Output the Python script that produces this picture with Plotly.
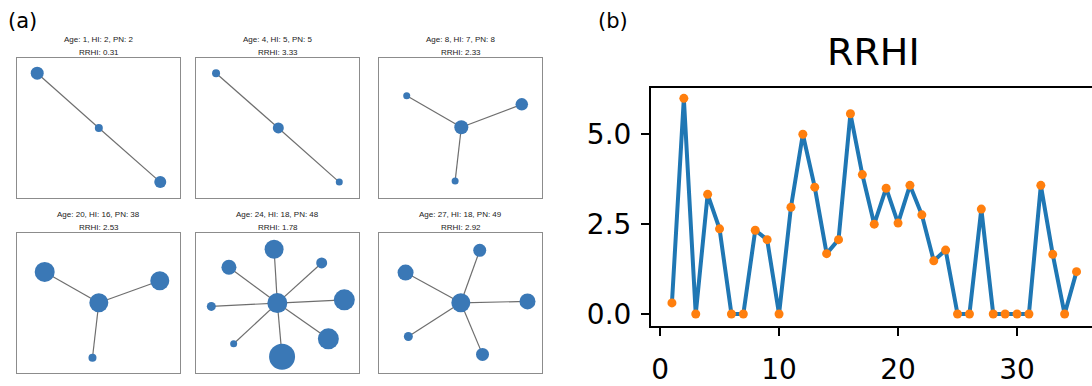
import plotly.graph_objects as go

# ---- data -------------------------------------------------------------
ages = list(range(1, 36))
rrhi = [0.31, 6.0, 0.0, 3.33, 2.37, 0.0, 0.0, 2.33, 2.07, 0.0,
        2.97, 5.0, 3.53, 1.68, 2.07, 5.57, 3.88, 2.5, 3.5, 2.53,
        3.58, 2.76, 1.48, 1.78, 0.0, 0.0, 2.92, 0.0, 0.0, 0.0,
        0.0, 3.58, 1.66, 0.0, 1.18]

panel_age = [1, 4, 8, 20, 24, 27]
panel_hi = [2, 5, 7, 16, 18, 18]
panel_pn = [2, 5, 8, 38, 48, 49]
panel_rrhi = [0.31, 3.33, 2.33, 2.53, 1.78, 2.92]

# network layouts (first node is the hub), node weights
net_x = [
    [0.502, 0.124, 0.879],
    [0.505, 0.123, 0.879],
    [0.505, 0.17, 0.876, 0.467],
    [0.502, 0.17, 0.876, 0.463],
    [0.499, 0.479, 0.202, 0.771, 0.910, 0.812, 0.528, 0.231, 0.094],
    [0.502, 0.618, 0.163, 0.911, 0.635, 0.18],
]
net_y = [
    [0.5, 0.892, 0.113],
    [0.5, 0.892, 0.113],
    [0.505, 0.73, 0.669, 0.12],
    [0.503, 0.724, 0.661, 0.11],
    [0.501, 0.886, 0.757, 0.788, 0.524, 0.245, 0.117, 0.21, 0.477],
    [0.503, 0.878, 0.719, 0.513, 0.134, 0.262],
]
net_w = [
    [8, 13, 12],
    [11, 8, 7],
    [14, 7, 12.5, 7],
    [19, 20, 19, 8],
    [20, 19, 15, 11, 21, 21, 26, 7, 9],
    [19, 13, 16, 16, 13, 9],
]

# ---- figure -----------------------------------------------------------
W, H = 1092, 386
fig = go.Figure()

box_cols = [(17, 180), (196, 359), (379, 542)]
box_rows = [(59, 201), (237, 379)]

NODE_COLOR = "#3a78b6"
EDGE_COLOR = "#6e6e6e"
SMALL_FONT = "Liberation Sans, Arial, sans-serif"
BIG_FONT = "DejaVu Sans, sans-serif"

annotations = []
for i in range(6):
    r, c = divmod(i, 3)
    x0, x1 = box_cols[c]
    y0, y1 = box_rows[r]
    ax = "" if i == 0 else str(i + 1)
    common = dict(range=[0, 1], showticklabels=False, ticks="", showgrid=False,
                  zeroline=False, showline=True, linecolor="#8c8c8c",
                  linewidth=1, mirror=True, fixedrange=True)
    xa = dict(domain=[x0 / W, x1 / W], anchor="y" + ax, **common)
    ya = dict(domain=[1 - y1 / H, 1 - y0 / H], anchor="x" + ax, **common)
    fig.update_layout(**{"xaxis" + ax: xa, "yaxis" + ax: ya})

    xs, ys, ws = net_x[i], net_y[i], net_w[i]
    ex, ey = [], []
    for k in range(1, len(xs)):
        ex += [xs[0], xs[k], None]
        ey += [ys[0], ys[k], None]
    fig.add_trace(go.Scatter(x=ex, y=ey, mode="lines",
                             line=dict(color=EDGE_COLOR, width=1.2),
                             hoverinfo="skip", showlegend=False,
                             xaxis="x" + ax, yaxis="y" + ax))
    fig.add_trace(go.Scatter(x=xs, y=ys, mode="markers",
                             marker=dict(color=NODE_COLOR, size=ws, opacity=1,
                                         line=dict(width=0)),
                             hoverinfo="skip", showlegend=False,
                             xaxis="x" + ax, yaxis="y" + ax))

    cx = (x0 + x1) / 2 / W
    annotations.append(dict(
        text=f"Age: {panel_age[i]}, HI: {panel_hi[i]}, PN: {panel_pn[i]}",
        x=cx, y=1 - (y0 - 19) / H, xref="paper", yref="paper",
        xanchor="center", yanchor="middle", showarrow=False,
        font=dict(family=SMALL_FONT, size=8, color="#222222")))
    annotations.append(dict(
        text=f"RRHI: {panel_rrhi[i]:.2f}",
        x=cx, y=1 - (y0 - 6) / H, xref="paper", yref="paper",
        xanchor="center", yanchor="middle", showarrow=False,
        font=dict(family=SMALL_FONT, size=8, color="#222222")))

# main RRHI series
fig.add_trace(go.Scatter(x=ages, y=rrhi, mode="lines",
                         line=dict(color="#1f77b4", width=4),
                         hoverinfo="skip", showlegend=False,
                         xaxis="x7", yaxis="y7"))
fig.add_trace(go.Scatter(x=ages, y=rrhi, mode="markers",
                         marker=dict(color="#ff7f0e", size=9, line=dict(width=0)),
                         showlegend=False, xaxis="x7", yaxis="y7"))

fig.update_layout(
    xaxis7=dict(domain=[651 / W, 1.0], range=[-0.76, 36.3], anchor="y7",
                tickvals=[0, 10, 20, 30], ticktext=["0", "10", "20", "30"],
                ticks="outside", ticklen=8, tickwidth=2, tickcolor="black",
                showline=True, linecolor="black", linewidth=2, mirror=True,
                showgrid=False, zeroline=False, ticklabelstandoff=10,
                tickfont=dict(family=BIG_FONT, size=28, color="black")),
    yaxis7=dict(domain=[1 - 330.7 / H, 1 - 89.3 / H], range=[-0.32, 6.29], anchor="x7",
                tickvals=[0, 2.5, 5.0], ticktext=["0.0", "2.5", "5.0"],
                ticks="outside", ticklen=8, tickwidth=2, tickcolor="black",
                showline=True, linecolor="black", linewidth=2,
                showgrid=False, zeroline=False, ticklabelstandoff=4,
                tickfont=dict(family=BIG_FONT, size=28, color="black")),
)

annotations += [
    dict(text="RRHI", x=873 / W, y=1 - 53 / H, xref="paper", yref="paper",
         xanchor="center", yanchor="middle", showarrow=False,
         font=dict(family=BIG_FONT, size=38, color="black")),
    dict(text="(a)", x=6 / W, y=1 - 21 / H, xref="paper", yref="paper",
         xanchor="left", yanchor="middle", showarrow=False,
         font=dict(family=BIG_FONT, size=21, color="black")),
    dict(text="(b)", x=596 / W, y=1 - 21 / H, xref="paper", yref="paper",
         xanchor="left", yanchor="middle", showarrow=False,
         font=dict(family=BIG_FONT, size=21, color="black")),
]

fig.update_layout(width=W, height=H, margin=dict(l=0, r=0, t=0, b=0),
                  paper_bgcolor="white", plot_bgcolor="white",
                  annotations=annotations)

fig.write_html("out.html", config={"displayModeBar": False})
